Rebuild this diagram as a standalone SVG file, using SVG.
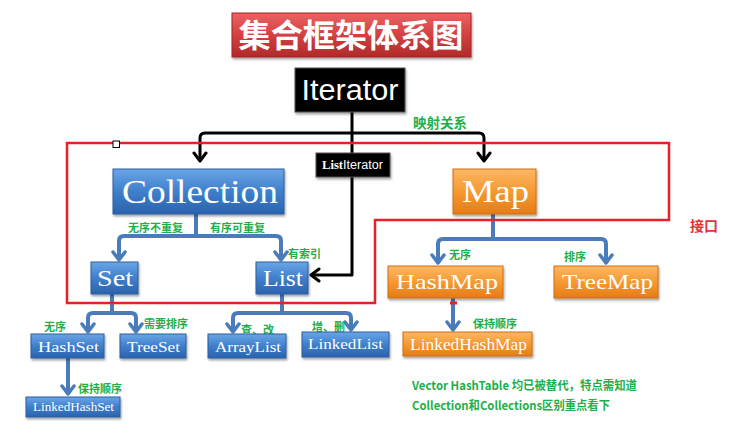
<svg xmlns="http://www.w3.org/2000/svg" width="748" height="433" viewBox="0 0 748 433">
<style>
.blue{fill:url(#gBlue);stroke:#2c5e9f;stroke-width:1;filter:url(#sh)}
.orange{fill:url(#gOrange);stroke:#cf6f12;stroke-width:1;filter:url(#sh)}
.black{fill:#000;stroke:#555;stroke-width:1;filter:url(#sh)}
.st{font-family:"Liberation Serif","Times New Roman",serif;fill:#fff}
.lbl{font-family:"Noto Sans CJK SC","Liberation Sans",sans-serif;font-weight:700;fill:#1fae4a;font-size:11px}
.big{font-size:13.5px}
.note{font-size:12px}
.bc{fill:none;stroke:#4a7cbc;stroke-width:4;stroke-linejoin:round;marker-end:url(#ab)}
.bc0{fill:none;stroke:#4a7cbc;stroke-width:4}
.kc{fill:none;stroke:#000;stroke-width:3;stroke-linejoin:round;marker-end:url(#ak)}
</style>
<defs>
<linearGradient id="gBlue" x1="0" y1="0" x2="0" y2="1"><stop offset="0" stop-color="#6aa5e6"/><stop offset="0.5" stop-color="#3f7fcc"/><stop offset="1" stop-color="#2b62ad"/></linearGradient>
<linearGradient id="gOrange" x1="0" y1="0" x2="0" y2="1"><stop offset="0" stop-color="#fdb764"/><stop offset="0.5" stop-color="#f59a32"/><stop offset="1" stop-color="#e57c17"/></linearGradient>
<linearGradient id="gRed" x1="0" y1="0" x2="0" y2="1"><stop offset="0" stop-color="#ea6262"/><stop offset="0.5" stop-color="#d24141"/><stop offset="1" stop-color="#b02a2a"/></linearGradient>
<filter id="sh" x="-10%" y="-20%" width="120%" height="150%"><feDropShadow dx="1" dy="2" stdDeviation="1.2" flood-color="#000" flood-opacity="0.35"/></filter>
<marker id="ab" markerUnits="userSpaceOnUse" markerWidth="16" markerHeight="16" viewBox="0 0 16 16" refX="12" refY="8" orient="auto"><path d="M4,2 L12,8 L4,14" fill="none" stroke="#4a7cbc" stroke-width="3.5" stroke-linecap="round" stroke-linejoin="round"/></marker>
<marker id="ak" markerUnits="userSpaceOnUse" markerWidth="16" markerHeight="16" viewBox="0 0 16 16" refX="12" refY="8" orient="auto"><path d="M4,2 L12,8 L4,14" fill="none" stroke="#000" stroke-width="3" stroke-linecap="round" stroke-linejoin="round"/></marker>
</defs>
<rect width="748" height="433" fill="#fff"/>

<g id="connectors">
<path class="kc" d="M352,112 V275 H311"/>
<path class="kc" d="M352,133 H205 Q200,133 200,138 V161"/>
<path class="kc" d="M352,133 H479 Q484,133 484,138 V161"/>
<path class="bc0" d="M196,214 V236"/>
<path class="bc" d="M196,236 H124 Q119,236 119,241 V260"/>
<path class="bc" d="M196,236 H276 Q281,236 281,241 V260"/>
<path class="bc0" d="M493,214 V239"/>
<path class="bc" d="M493,239 H443 Q438,239 438,244 V263"/>
<path class="bc" d="M493,239 H601 Q606,239 606,244 V263"/>
<path class="bc0" d="M112,294 V313"/>
<path class="bc" d="M112,313 H93 Q88,313 88,318 V332"/>
<path class="bc" d="M112,313 H131 Q136,313 136,318 V332"/>
<path class="bc0" d="M282,294 V313"/>
<path class="bc" d="M282,313 H238 Q233,313 233,318 V332"/>
<path class="bc" d="M282,313 H346 Q351,313 351,318 V330"/>
<path class="bc" d="M68,358 V394"/>
<path class="bc" d="M453,298 V330"/>
</g>

<g id="interface-outline">
<polygon points="67,143 669,143 669,220 375,220 375,303 67,303" fill="none" stroke="#e8202a" stroke-width="2.5"/>
<rect x="450" y="301.5" width="7" height="3" fill="#e8202a"/>
<rect x="113" y="141" width="6.5" height="6.5" fill="#fff" stroke="#000" stroke-width="1"/>
<text x="690" y="231" font-family="Noto Sans CJK SC,sans-serif" font-weight="700" font-size="14" fill="#e8303a">接口</text>
</g>

<g id="title">
<rect x="232" y="13" width="239" height="44" fill="url(#gRed)" stroke="#a52525" stroke-width="1" filter="url(#sh)"/>
<text x="351" y="47" text-anchor="middle" font-family="Noto Sans CJK SC,sans-serif" font-weight="700" font-size="32" fill="#fff" textLength="225" lengthAdjust="spacingAndGlyphs">集合框架体系图</text>
</g>

<g id="iterator">
<rect class="black" x="295" y="68" width="110" height="44"/>
<text x="350" y="100" text-anchor="middle" font-family="Liberation Sans,Arial,sans-serif" font-size="30" fill="#fff" textLength="97" lengthAdjust="spacingAndGlyphs">Iterator</text>
</g>
<text class="lbl big" x="413" y="128">映射关系</text>

<g id="listiterator">
<rect class="black" x="316" y="153" width="74" height="24"/>
<text x="322" y="169" font-size="12" fill="#fff" textLength="61" lengthAdjust="spacingAndGlyphs"><tspan font-family="Liberation Serif,serif" font-weight="700">List</tspan><tspan font-family="Liberation Sans,sans-serif">Iterator</tspan></text>
</g>

<g id="collection">
<rect class="blue" x="113" y="169" width="171" height="45"/>
<text class="st" x="200" y="203" text-anchor="middle" font-size="34" textLength="156" lengthAdjust="spacingAndGlyphs">Collection</text>
</g>
<g id="map">
<rect class="orange" x="453" y="169" width="83" height="45"/>
<text class="st" x="495.5" y="202" text-anchor="middle" font-size="32" textLength="67" lengthAdjust="spacingAndGlyphs">Map</text>
</g>

<text class="lbl" x="128" y="232">无序不重复</text>
<text class="lbl" x="210" y="232">有序可重复</text>
<text class="lbl" x="288" y="258">有索引</text>
<text class="lbl" x="449" y="259">无序</text>
<text class="lbl" x="564" y="261">排序</text>

<g id="set">
<rect class="blue" x="91" y="262" width="47" height="32"/>
<text class="st" x="115" y="286" text-anchor="middle" font-size="24" textLength="36" lengthAdjust="spacingAndGlyphs">Set</text>
</g>
<g id="list">
<rect class="blue" x="256" y="262" width="52" height="32"/>
<text class="st" x="283" y="286" text-anchor="middle" font-size="24" textLength="40" lengthAdjust="spacingAndGlyphs">List</text>
</g>
<g id="hashmap">
<rect class="orange" x="388" y="266" width="115" height="32"/>
<text class="st" x="447" y="289" text-anchor="middle" font-size="22" textLength="102" lengthAdjust="spacingAndGlyphs">HashMap</text>
</g>
<g id="treemap">
<rect class="orange" x="554" y="266" width="104" height="32"/>
<text class="st" x="607.5" y="289" text-anchor="middle" font-size="22" textLength="91" lengthAdjust="spacingAndGlyphs">TreeMap</text>
</g>

<text class="lbl" x="44" y="331">无序</text>
<text class="lbl" x="144" y="328">需要排序</text>
<text class="lbl" x="241" y="334">查、改</text>
<text class="lbl" x="312" y="331">增、删</text>
<text class="lbl" x="473" y="328">保持顺序</text>
<text class="lbl" x="78" y="393">保持顺序</text>

<g id="hashset">
<rect class="blue" x="31" y="334" width="73" height="24"/>
<text class="st" x="68.5" y="352" text-anchor="middle" font-size="15" textLength="61" lengthAdjust="spacingAndGlyphs">HashSet</text>
</g>
<g id="treeset">
<rect class="blue" x="120" y="334" width="66" height="24"/>
<text class="st" x="153.5" y="352" text-anchor="middle" font-size="15" textLength="53" lengthAdjust="spacingAndGlyphs">TreeSet</text>
</g>
<g id="arraylist">
<rect class="blue" x="208" y="334" width="78" height="24"/>
<text class="st" x="248" y="352" text-anchor="middle" font-size="15" textLength="66" lengthAdjust="spacingAndGlyphs">ArrayList</text>
</g>
<g id="linkedlist">
<rect class="blue" x="302" y="332" width="87" height="25"/>
<text class="st" x="345.5" y="349" text-anchor="middle" font-size="15" textLength="75" lengthAdjust="spacingAndGlyphs">LinkedList</text>
</g>
<g id="linkedhashset">
<rect class="blue" x="26" y="397" width="94" height="20"/>
<text class="st" x="73.5" y="411" text-anchor="middle" font-size="13" textLength="81" lengthAdjust="spacingAndGlyphs">LinkedHashSet</text>
</g>
<g id="linkedhashmap">
<rect class="orange" x="403" y="332" width="129" height="24"/>
<text class="st" x="468.5" y="350" text-anchor="middle" font-size="16" textLength="117" lengthAdjust="spacingAndGlyphs">LinkedHashMap</text>
</g>

<g id="notes">
<text class="lbl note" x="412" y="390" textLength="225" lengthAdjust="spacingAndGlyphs">Vector HashTable 均已被替代，特点需知道</text>
<text class="lbl note" x="412" y="410" textLength="198" lengthAdjust="spacingAndGlyphs">Collection和Collections区别重点看下</text>
</g>
</svg>
